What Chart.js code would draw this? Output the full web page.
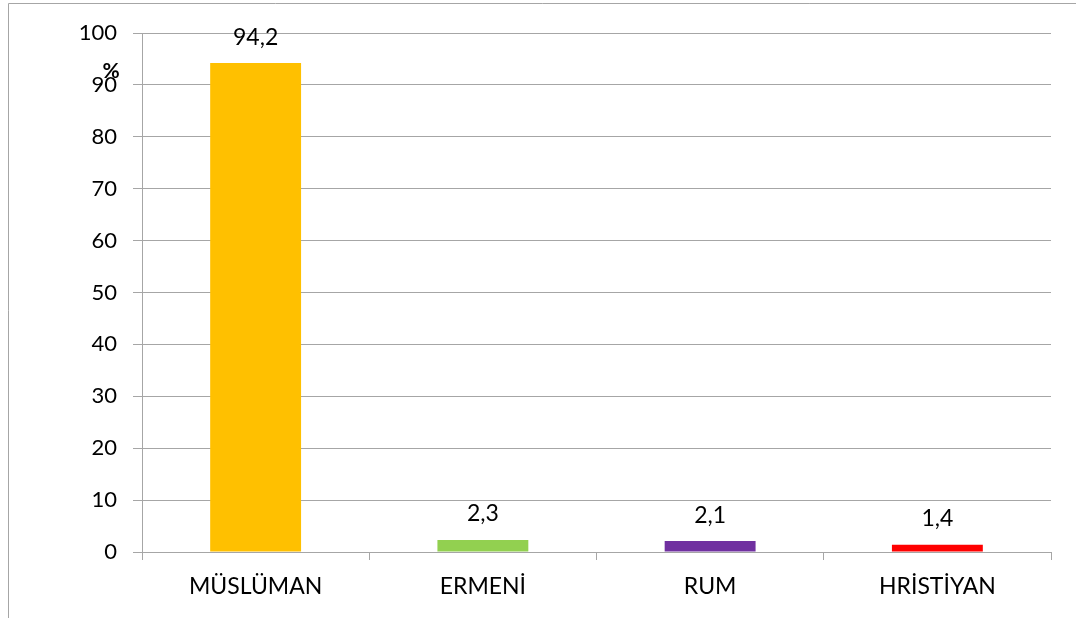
<!DOCTYPE html>
<html>
<head>
<meta charset="utf-8">
<script src="https://cdn.jsdelivr.net/npm/chart.js@4"></script>
<style>
  html, body { margin: 0; padding: 0; background: #fff; }
  #wrap { width: 1076px; height: 618px; }
</style>
</head>
<body>
<div id="wrap"><canvas id="c" width="1076" height="618"></canvas></div>
<script>
const categories = ["MÜSLÜMAN", "ERMENİ", "RUM", "HRİSTİYAN"];
const shares = [94.2, 2.3, 2.1, 1.4];
const barColors = ["#FFC000", "#92D050", "#7030A0", "#FF0000"];
const yTicks = [0, 10, 20, 30, 40, 50, 60, 70, 80, 90, 100];

const FONT = "Lato, 'Liberation Sans', sans-serif";

// frame + "%" title + value labels
const extras = {
  id: "extras",
  beforeDraw(chart) {
    const ctx = chart.ctx;
    ctx.save();
    ctx.strokeStyle = "#a6a6a6";
    ctx.lineWidth = 1;
    ctx.beginPath();
    ctx.moveTo(8.5, 618);
    ctx.lineTo(8.5, 3.5);
    ctx.lineTo(1076, 3.5);
    ctx.stroke();
    ctx.restore();
  },
  afterDatasetsDraw(chart) {
    const ctx = chart.ctx;
    ctx.save();
    ctx.fillStyle = "#000";
    ctx.font = "23px " + FONT;
    ctx.textAlign = "center";
    ctx.textBaseline = "middle";
    const meta = chart.getDatasetMeta(0);
    meta.data.forEach((bar, i) => {
      ctx.fillText(String(shares[i]).replace(".", ","), bar.x, bar.y - 26);
    });
    ctx.font = "bold 21px " + FONT;
    ctx.fillText("%", 111, 71);
    ctx.restore();
  }
};

new Chart(document.getElementById("c"), {
  type: "bar",
  data: {
    labels: categories,
    datasets: [{
      data: shares,
      backgroundColor: barColors,
      categoryPercentage: 1,
      barPercentage: 0.4
    }]
  },
  options: {
    responsive: false,
    animation: false,
    layout: { padding: { left: 20, right: 25, top: 33, bottom: 10 } },
    plugins: { legend: { display: false }, tooltip: { enabled: false } },
    scales: {
      x: {
        grid: { drawOnChartArea: false, drawTicks: true, tickLength: 8, color: "#a6a6a6", offset: true },
        border: { color: "#a6a6a6" },
        ticks: { color: "#000", font: { size: 23, family: FONT }, padding: 13 },
        afterFit(scale) { scale.height = 56; }
      },
      y: {
        min: 0,
        max: 100,
        afterBuildTicks(scale) { scale.ticks = yTicks.map(v => ({ value: v })); },
        grid: { color: "#a6a6a6", tickLength: 9 },
        border: { color: "#a6a6a6" },
        ticks: { color: "#000", font: { size: 22, family: FONT }, padding: 16 },
        afterFit(scale) { scale.width = 122; }
      }
    }
  },
  plugins: [extras]
});
</script>
</body>
</html>
